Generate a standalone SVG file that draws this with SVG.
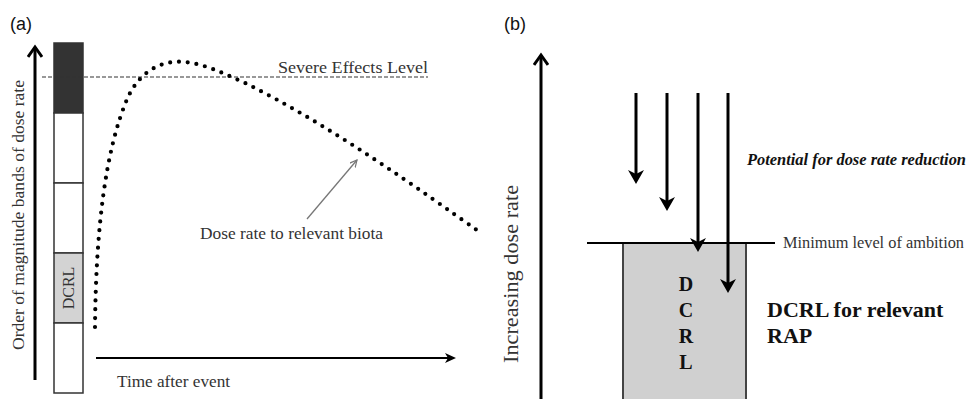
<svg xmlns="http://www.w3.org/2000/svg" width="968" height="399" viewBox="0 0 968 399">
<style>
.lbl{font-family:"Liberation Sans",Arial,sans-serif;font-size:18px;fill:#111}
.t{font-family:"Liberation Serif","Times New Roman",serif;fill:#333}
.b{font-family:"Liberation Serif","Times New Roman",serif;font-weight:bold;fill:#111}
.band{stroke:#333;stroke-width:1.5}
.ax{stroke:#000;stroke-width:3;fill:none}
.dn{stroke:#000;stroke-width:3;fill:none;marker-end:url(#barb)}
</style>
<defs>
<marker id="barb" markerUnits="userSpaceOnUse" viewBox="0 0 14 16" refX="8" refY="8" markerWidth="14" markerHeight="16" orient="auto">
<path d="M0,0 L14,8 L0,16 L4,8 Z" fill="#000"/>
</marker>
<marker id="barbS" markerUnits="userSpaceOnUse" viewBox="0 0 11 10" refX="6" refY="5" markerWidth="11" markerHeight="10" orient="auto">
<path d="M0,0 L11,5 L0,10 L3,5 Z" fill="#000"/>
</marker>
<marker id="chev" markerUnits="userSpaceOnUse" viewBox="-1 -1 14 16" refX="10" refY="7" markerWidth="14" markerHeight="16" orient="auto">
<path d="M0,0 L10,7 L0,14" fill="none" stroke="#000" stroke-width="3"/>
</marker>
<marker id="ptr" markerUnits="userSpaceOnUse" viewBox="0 0 8 8" refX="7" refY="4" markerWidth="8" markerHeight="8" orient="auto">
<path d="M0,0.5 L7,4 L0,7.5" fill="none" stroke="#777" stroke-width="1.2"/>
</marker>
</defs>
<rect width="968" height="399" fill="#fff"/>

<text class="lbl" x="10" y="30">(a)</text>
<text class="lbl" x="504" y="30">(b)</text>

<g id="bands">
<rect class="band" x="54" y="43" width="29" height="70" fill="#333"/>
<rect class="band" x="54" y="113" width="29" height="70" fill="#fff"/>
<rect class="band" x="54" y="183" width="29" height="70" fill="#fff"/>
<rect class="band" x="54" y="253" width="29" height="70" fill="#d3d3d3"/>
<rect class="band" x="54" y="323" width="29" height="70" fill="#fff"/>
<text class="t" transform="translate(74,288) rotate(-90)" text-anchor="middle" font-size="16" fill="#222">DCRL</text>
</g>

<g id="severe-level">
<line x1="42" y1="77" x2="428" y2="77" stroke="#333" stroke-width="1.2" stroke-dasharray="4 2"/>
<text class="t" x="278" y="73" font-size="16" textLength="150" lengthAdjust="spacingAndGlyphs">Severe Effects Level</text>
</g>

<g id="dose-curve">
<path d="M95,327 C96,230 105,150 128,97 C142,68 165,60 185,62 C205,64 225,74 245,83 C330,125 420,190 481,233" fill="none" stroke="#000" stroke-width="4.2" stroke-linecap="round" stroke-dasharray="0 8.8"/>
<text class="t" x="200" y="239" font-size="16" textLength="183" lengthAdjust="spacingAndGlyphs">Dose rate to relevant biota</text>
</g>

<g id="axis-labels-a">
<text class="t" transform="translate(24,215) rotate(-90)" text-anchor="middle" font-size="16" textLength="270" lengthAdjust="spacingAndGlyphs">Order of magnitude bands of dose rate</text>
<text class="t" x="117" y="387" font-size="16" textLength="113" lengthAdjust="spacingAndGlyphs">Time after event</text>
</g>

<g id="dcrl-box">
<rect x="623" y="243" width="123" height="170" fill="#d0d0d0" stroke="#444" stroke-width="2"/>
<text class="b" x="686" y="291" font-size="20" text-anchor="middle">D</text>
<text class="b" x="686" y="317" font-size="20" text-anchor="middle">C</text>
<text class="b" x="686" y="343" font-size="20" text-anchor="middle">R</text>
<text class="b" x="686" y="369" font-size="20" text-anchor="middle">L</text>
</g>

<g id="ambition-level">
<line x1="587" y1="243" x2="775" y2="243" stroke="#000" stroke-width="2"/>
<text class="t" x="783" y="248" font-size="16" fill="#111" textLength="181" lengthAdjust="spacingAndGlyphs">Minimum level of ambition</text>
</g>

<g id="labels-b">
<text class="b" x="747" y="165" font-size="16" font-style="italic" textLength="219" lengthAdjust="spacingAndGlyphs">Potential for dose rate reduction</text>
<text class="b" x="767" y="317" font-size="22">DCRL for relevant</text>
<text class="b" x="767" y="343" font-size="22">RAP</text>
<text class="t" transform="translate(518,274) rotate(-90)" text-anchor="middle" font-size="20" textLength="178" lengthAdjust="spacingAndGlyphs">Increasing dose rate</text>
</g>

<g id="connectors">
<line class="ax" x1="35" y1="380" x2="35" y2="47" marker-end="url(#chev)"/>
<line x1="96" y1="358" x2="451" y2="358" stroke="#000" stroke-width="2" marker-end="url(#barbS)"/>
<line x1="307" y1="219" x2="357" y2="160" stroke="#777" stroke-width="1.3" marker-end="url(#ptr)"/>
<line class="ax" x1="541" y1="399" x2="541" y2="55" marker-end="url(#chev)"/>
<line class="dn" x1="636" y1="93" x2="636" y2="178"/>
<line class="dn" x1="667" y1="93" x2="667" y2="205"/>
<line class="dn" x1="698" y1="93" x2="698" y2="246"/>
<line class="dn" x1="728" y1="93" x2="728" y2="287"/>
</g>
</svg>
